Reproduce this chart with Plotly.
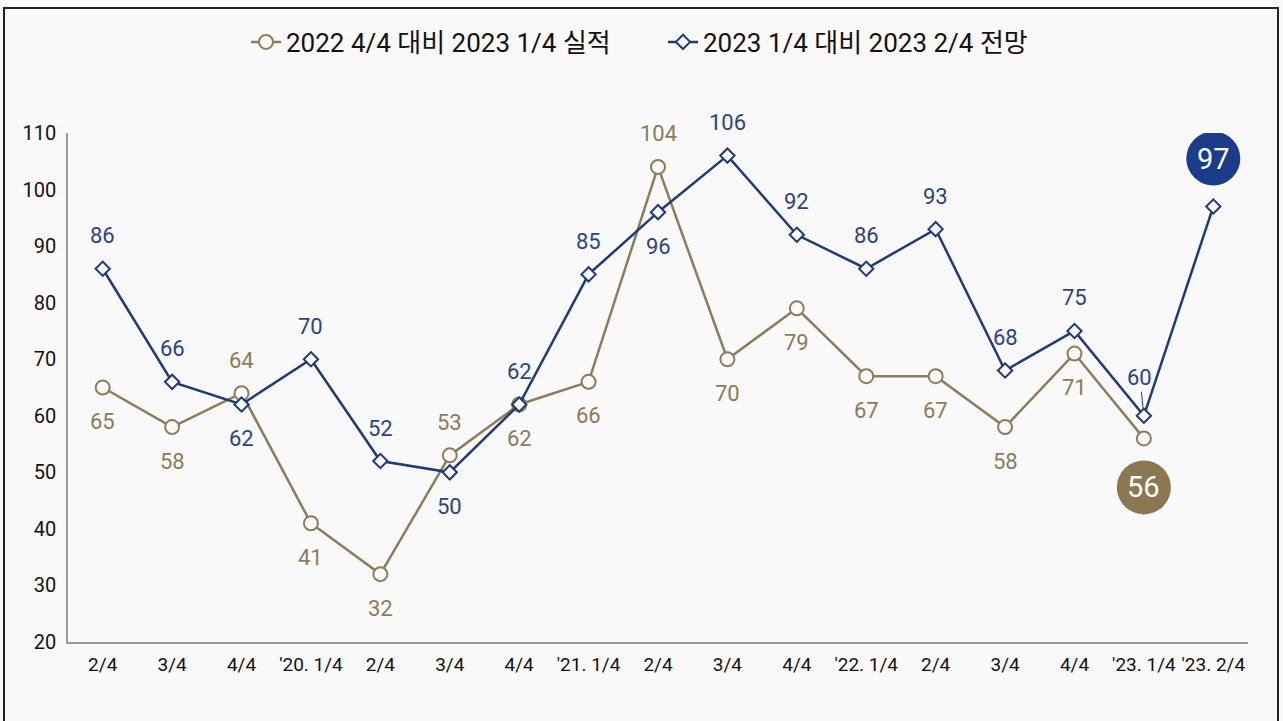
import plotly.graph_objects as go

categories = ["2/4", "3/4", "4/4", "'20. 1/4", "2/4", "3/4", "4/4", "'21. 1/4", "2/4",
              "3/4", "4/4", "'22. 1/4", "2/4", "3/4", "4/4", "'23. 1/4", "'23. 2/4"]
actual = [65, 58, 64, 41, 32, 53, 62, 66, 104, 70, 79, 67, 67, 58, 71, 56]
outlook = [86, 66, 62, 70, 52, 50, 62, 85, 96, 106, 92, 86, 93, 68, 75, 60, 97]
actual_pos = ["b", "b", "t", "b", "b", "t", "b", "b", "t", "b", "b", "b", "b", "b", "b", "big"]
outlook_pos = ["t", "t", "b", "t", "t", "b", "t", "t", "b", "t", "t", "t", "t", "t", "t", "lead", "big"]
name_actual = "2022 4/4 대비 2023 1/4 실적"
name_outlook = "2023 1/4 대비 2023 2/4 전망"

BROWN = "#8c7d5a"
BROWN_TXT = "#8a7b5a"
NAVY = "#1f3a7a"
NAVY_TXT = "#2b4385"
BG = "#f9f9f9"
FONT = "Roboto, Noto Sans CJK KR, sans-serif"

xs = list(range(len(categories)))

fig = go.Figure()
fig.add_trace(go.Scatter(
    x=xs[:len(actual)], y=actual, mode="lines+markers", name=name_actual,
    line=dict(color=BROWN, width=2.5),
    marker=dict(symbol="circle", size=14, color=BG, line=dict(color=BROWN, width=2)),
))
fig.add_trace(go.Scatter(
    x=xs, y=outlook, mode="lines+markers", name=name_outlook,
    line=dict(color=NAVY, width=2.5),
    marker=dict(symbol="diamond", size=11, color=BG, line=dict(color=NAVY, width=2)),
))

LBL = 22
annotations = []
shapes = []
for i, (v, p) in enumerate(zip(actual, actual_pos)):
    if p == "big":
        shapes.append(dict(type="circle", xref="x", yref="y", xsizemode="pixel", ysizemode="pixel",
                           xanchor=i, yanchor=v, x0=-27, x1=27, y0=-76, y1=-22,
                           fillcolor="#8b7752", line=dict(width=0), layer="above"))
        annotations.append(dict(x=i, y=v, text=str(v), showarrow=False, yshift=-49,
                                font=dict(size=29, color="white", family=FONT)))
    else:
        annotations.append(dict(x=i, y=v, text=str(v), showarrow=False,
                                yshift=33 if p == "t" else -34,
                                font=dict(size=LBL, color=BROWN_TXT, family=FONT)))
for i, (v, p) in enumerate(zip(outlook, outlook_pos)):
    if p == "big":
        shapes.append(dict(type="circle", xref="x", yref="y", xsizemode="pixel", ysizemode="pixel",
                           xanchor=i, yanchor=v, x0=-27, x1=27, y0=21, y1=75,
                           fillcolor="#1b3b8b", line=dict(width=0), layer="above"))
        annotations.append(dict(x=i, y=v, text=str(v), showarrow=False, yshift=48,
                                font=dict(size=29, color="white", family=FONT)))
    elif p == "lead":
        annotations.append(dict(x=i, y=v, text=str(v), showarrow=True, arrowhead=0,
                                arrowwidth=1, arrowcolor=NAVY, ax=-4, ay=-38, standoff=6,
                                font=dict(size=LBL, color=NAVY_TXT, family=FONT)))
    else:
        annotations.append(dict(x=i, y=v, text=str(v), showarrow=False,
                                yshift=33 if p == "t" else -34,
                                font=dict(size=LBL, color=NAVY_TXT, family=FONT)))

# outer frame (paper coords from pixel positions)
L, R, T, B = 68, 1248, 133, 642
def px(x):
    return (x - L) / (R - L)
def py(y):
    return (B - y) / (B - T)
shapes.append(dict(type="rect", xref="paper", yref="paper",
                   x0=px(4), x1=px(1278), y0=py(725), y1=py(8),
                   line=dict(color="#222222", width=2), fillcolor="rgba(0,0,0,0)", layer="below"))

fig.update_layout(
    width=1283, height=721,
    margin=dict(l=L, r=1283 - R, t=T, b=721 - B),
    paper_bgcolor=BG, plot_bgcolor=BG,
    font=dict(family=FONT, color="#222222"),
    showlegend=True,
    legend=dict(orientation="h", x=px(246), xanchor="left", y=py(42), yanchor="middle",
                font=dict(size=26, color="#111111", family=FONT), bgcolor="rgba(0,0,0,0)",
                itemwidth=30, tracegroupgap=0, entrywidth=372, entrywidthmode="pixels"),
    xaxis=dict(range=[-0.5, len(categories) - 0.5], tickmode="array", tickvals=xs,
               ticktext=categories, showgrid=False, zeroline=False,
               showline=True, linecolor="#9a9a9a", linewidth=1.5, ticks="",
               ticklabelstandoff=4,
               tickfont=dict(size=19, color="#111111", family=FONT)),
    yaxis=dict(range=[20, 110], tickmode="array", tickvals=list(range(20, 111, 10)),
               showgrid=False, zeroline=False, showline=True, linecolor="#9a9a9a",
               linewidth=1.5, ticks="", ticklabelstandoff=6,
               tickfont=dict(size=20, color="#111111", family=FONT)),
    annotations=annotations, shapes=shapes,
)

fig.write_html("out.html", config={"displayModeBar": False},
               post_script="document.body.style.margin='0';document.body.style.overflow='hidden';")
